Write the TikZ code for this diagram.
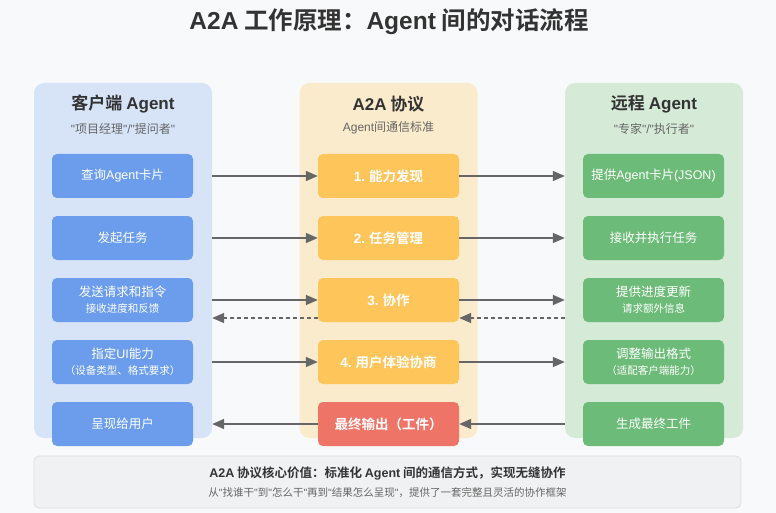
\documentclass[tikz,border=0pt]{standalone}
\usepackage{fontspec}
\setmainfont{Noto Sans CJK SC}[BoldFont={Noto Sans CJK SC Bold}]
\newfontfamily\latfont{Liberation Sans}
\newcommand\E[1]{{\latfont #1}}
\usetikzlibrary{arrows.meta}
\definecolor{bgc}{HTML}{F8F9FA}
\definecolor{lpan}{HTML}{D7E4F8}
\definecolor{mpan}{HTML}{FAEBCC}
\definecolor{rpan}{HTML}{D5EAD7}
\definecolor{lboxc}{HTML}{6B9DEC}
\definecolor{mboxc}{HTML}{FDC55A}
\definecolor{fboxc}{HTML}{EF7468}
\definecolor{rboxc}{HTML}{6CBB78}
\definecolor{arrc}{HTML}{666666}
\definecolor{titc}{HTML}{333333}
\definecolor{subc}{HTML}{666666}
\definecolor{botfill}{HTML}{F0F1F2}
\definecolor{botdraw}{HTML}{DDDEE0}
\newcommand\fsz[2]{\fontsize{#1}{#2}\selectfont}
\begin{document}
\begin{tikzpicture}[x=1pt,y=-1pt,
  panel/.style={rounded corners=10pt, minimum width=178pt, minimum height=355pt, inner sep=0pt, draw=none},
  stepbox/.style={rounded corners=5pt, minimum width=141pt, minimum height=44pt, inner sep=0pt, draw=none, text=white, align=center, font=\fsz{12.5}{15}},
  lbox/.style={stepbox, fill=lboxc},
  mbox/.style={stepbox, fill=mboxc, font=\fsz{13.5}{16}\bfseries},
  fbox/.style={stepbox, fill=fboxc, font=\fsz{13.5}{16}\bfseries},
  rbox/.style={stepbox, fill=rboxc},
  head/.style={text=titc, font=\fsz{17}{20}\bfseries, inner sep=0pt},
  subhead/.style={text=subc, font=\fsz{12}{14}, inner sep=0pt},
  arr/.style={draw=arrc, line width=1.5pt, -{Triangle[length=12pt,width=10pt]}},
  darr/.style={arr, dash pattern=on 4pt off 3pt}
]
\useasboundingbox (0,0) rectangle (776,513);
\fill[bgc] (0,0) rectangle (776,513);

\node[text=titc, font=\fsz{24.5}{28}\bfseries, inner sep=0pt] (title) at (389,22) {\E{A2A} 工作原理：\E{Agent} 间的对话流程};

% panels
\node[panel, fill=lpan] (lp) at (123,260.5) {};
\node[panel, fill=mpan] (mp) at (388.5,260.5) {};
\node[panel, fill=rpan] (rp) at (654,260.5) {};

\node[head] (lh) at (123,104) {客户端 \E{Agent}};
\node[subhead] (ls) at (123,129) {\E{"}项目经理\E{"/"}提问者\E{"}};
\node[head] (mh) at (388.5,104) {\E{A2A} 协议};
\node[subhead] (ms) at (388.5,128) {\E{Agent}间通信标准};
\node[head] (rh) at (654,104) {远程 \E{Agent}};
\node[subhead] (rs) at (654,129) {\E{"}专家\E{"/"}执行者\E{"}};

% left boxes
\node[lbox] (l1) at (122.5,176) {查询\E{Agent}卡片};
\node[lbox] (l2) at (122.5,238) {发起任务};
\node[lbox] (l3) at (122.5,300) {发送请求和指令\\[1pt]{\fsz{10.5}{12}接收进度和反馈}};
\node[lbox] (l4) at (122.5,362) {指定\E{UI}能力\\[1pt]{\fsz{10.5}{12}（设备类型、格式要求）}};
\node[lbox] (l5) at (122.5,424) {呈现给用户};

% middle boxes
\node[mbox] (m1) at (388.5,176) {\E{1.} 能力发现};
\node[mbox] (m2) at (388.5,238) {\E{2.} 任务管理};
\node[mbox] (m3) at (388.5,300) {\E{3.} 协作};
\node[mbox] (m4) at (388.5,362) {\E{4.} 用户体验协商};
\node[fbox] (m5) at (388.5,424) {最终输出（工件）};

% right boxes
\node[rbox] (r1) at (653.5,176) {提供\E{Agent}卡片\E{(JSON)}};
\node[rbox] (r2) at (653.5,238) {接收并执行任务};
\node[rbox] (r3) at (653.5,300) {提供进度更新\\[1pt]{\fsz{10.5}{12}请求额外信息}};
\node[rbox] (r4) at (653.5,362) {调整输出格式\\[1pt]{\fsz{10.5}{12}（适配客户端能力）}};
\node[rbox] (r5) at (653.5,424) {生成最终工件};

% arrows
\foreach \i in {1,2,3,4}{
  \draw[arr] (lp.east |- m\i.west) -- (m\i.west);
  \draw[arr] (m\i.east) -- (rp.west |- m\i.east);
}
\coordinate (d3r) at ([yshift=-18pt]m3.east);
\coordinate (d3l) at ([yshift=-18pt]m3.west);
\draw[darr] (rp.west |- d3r) -- (d3r);
\draw[darr] (d3l) -- (lp.east |- d3l);
\draw[arr] (rp.west |- m5.east) -- (m5.east);
\draw[arr] (m5.west) -- (lp.east |- m5.west);

% bottom box
\node[rounded corners=5pt, minimum width=707pt, minimum height=52pt, fill=botfill, draw=botdraw, line width=0.8pt, inner sep=0pt] (bot) at (387.5,482) {};
\node[text=titc, font=\fsz{12.5}{15}\bfseries, inner sep=0pt] (b1) at (387.5,473) {\E{A2A} 协议核心价值：标准化 \E{Agent} 间的通信方式，实现无缝协作};
\node[text=subc, font=\fsz{10.5}{12}, inner sep=0pt] (b2) at (387.5,493) {从\E{"}找谁干\E{"}到\E{"}怎么干\E{"}再到\E{"}结果怎么呈现\E{"}，提供了一套完整且灵活的协作框架};
\end{tikzpicture}
\end{document}
